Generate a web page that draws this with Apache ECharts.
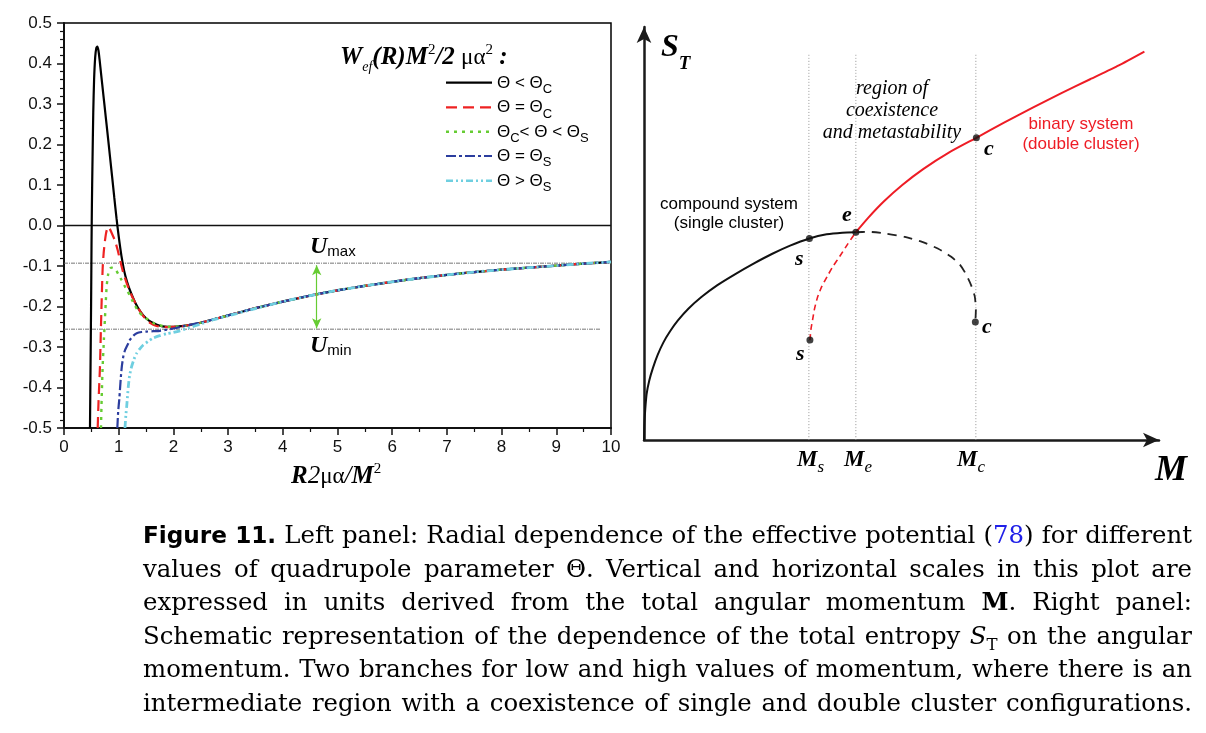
<!DOCTYPE html>
<html>
<head>
<meta charset="utf-8">
<script src="https://cdn.jsdelivr.net/npm/echarts@6/dist/echarts.min.js"></script>
<style>
html, body { margin: 0; padding: 0; background: #fff; }
#main { width: 1206px; height: 733px; }
</style>
</head>
<body>
<div id="main"></div>
<script>
// ---- left panel: effective potential ----
var tail = [[2.2,-0.248],[2.5,-0.24],[3,-0.222],[3.5,-0.204],[4,-0.188],[4.5,-0.173],[5,-0.16],[5.5,-0.149],[6,-0.139],[6.5,-0.13],[7,-0.122],[7.5,-0.115],[8,-0.109],[8.5,-0.104],[9,-0.099],[9.5,-0.094],[10,-0.09]];
var below = [[0.475,-0.5],[0.485,-0.35],[0.495,-0.2],[0.503,-0.05],[0.51,0.05],[0.52,0.15],[0.535,0.28],[0.55,0.36],[0.57,0.415],[0.59,0.438],[0.61,0.442],[0.63,0.432],[0.65,0.41],[0.68,0.372],[0.72,0.322],[0.76,0.272],[0.8,0.222],[0.84,0.171],[0.88,0.12],[0.92,0.068],[0.96,0.018],[1.0,-0.027],[1.05,-0.075],[1.1,-0.112],[1.15,-0.138],[1.2,-0.158],[1.3,-0.19],[1.4,-0.213],[1.5,-0.229],[1.6,-0.239],[1.7,-0.245],[1.8,-0.249],[1.9,-0.25],[2.0,-0.25]];
var equalC = [[0.616,-0.5],[0.63,-0.44],[0.645,-0.39],[0.658,-0.348],[0.672,-0.27],[0.689,-0.183],[0.707,-0.105],[0.725,-0.068],[0.744,-0.043],[0.765,-0.022],[0.785,-0.01],[0.81,-0.004],[0.835,-0.008],[0.87,-0.018],[0.93,-0.037],[0.98,-0.06],[1.02,-0.083],[1.08,-0.115],[1.146,-0.142],[1.22,-0.168],[1.3,-0.19],[1.4,-0.214],[1.48,-0.229],[1.58,-0.241],[1.69,-0.248],[1.8,-0.25],[1.9,-0.251],[2.0,-0.25]];
var between = [[0.676,-0.5],[0.69,-0.42],[0.707,-0.348],[0.73,-0.28],[0.75,-0.225],[0.765,-0.185],[0.78,-0.15],[0.805,-0.122],[0.83,-0.109],[0.85,-0.105],[0.87,-0.104],[0.9,-0.105],[0.93,-0.107],[0.96,-0.112],[1.0,-0.122],[1.05,-0.134],[1.1,-0.147],[1.146,-0.159],[1.2,-0.172],[1.24,-0.183],[1.3,-0.198],[1.36,-0.212],[1.45,-0.224],[1.54,-0.233],[1.65,-0.242],[1.8,-0.248],[1.9,-0.25],[2.0,-0.25]];
var equalS = [[0.975,-0.5],[0.99,-0.46],[1.01,-0.43],[1.04,-0.373],[1.06,-0.345],[1.085,-0.323],[1.115,-0.308],[1.146,-0.299],[1.18,-0.29],[1.207,-0.282],[1.27,-0.272],[1.33,-0.266],[1.42,-0.263],[1.51,-0.262],[1.63,-0.261],[1.755,-0.26],[1.85,-0.258],[1.94,-0.256],[2.05,-0.253]];
var above = [[1.115,-0.5],[1.13,-0.47],[1.146,-0.447],[1.176,-0.397],[1.2,-0.37],[1.237,-0.348],[1.28,-0.33],[1.33,-0.315],[1.39,-0.304],[1.45,-0.295],[1.54,-0.286],[1.63,-0.278],[1.75,-0.272],[1.88,-0.267],[2.0,-0.264],[2.12,-0.26],[2.3,-0.252],[2.5,-0.243],[2.75,-0.232],[3.0,-0.223],[3.5,-0.205]];
var tailFrom4 = tail.slice(4);
var UMAX = -0.093, UMIN = -0.256, ARROW_X = 4.62;
var xTicks = [0, 10, 1];          // min, max, step
var yTicks = [-0.5, 0.5, 0.1];

// ---- right panel: schematic entropy, in arbitrary units ----
var Ms = 3.16, Me = 4.06, Mc = 6.36;
var singleSolid = [[0,0],[0.008,0.4],[0.025,0.75],[0.05,1.1],[0.1,1.42],[0.17,1.72],[0.26,2.03],[0.37,2.33],[0.5,2.6],[0.65,2.86],[0.85,3.14],[1.1,3.42],[1.4,3.7],[1.75,3.97],[2.1,4.22],[2.45,4.45],[2.8,4.65],[3.17,4.82],[3.5,4.92],[3.8,4.96],[4.06,4.97]];
var singleDashed = [[4.06,4.97],[4.3,4.98],[4.63,4.94],[5.0,4.86],[5.33,4.74],[5.63,4.58],[5.88,4.39],[6.05,4.2],[6.16,3.99],[6.27,3.7],[6.34,3.43],[6.36,3.1],[6.35,2.82]];
var doubleDashed = [[3.18,2.39],[3.2,2.65],[3.23,2.87],[3.27,3.15],[3.33,3.43],[3.41,3.68],[3.51,3.91],[3.62,4.15],[3.75,4.39],[3.9,4.68],[4.06,4.97]];
var doubleSolid = [[4.06,4.97],[4.3,5.32],[4.6,5.71],[4.95,6.1],[5.35,6.48],[5.85,6.88],[6.37,7.23],[6.9,7.59],[7.45,7.95],[8.0,8.3],[8.55,8.63],[9.1,8.96],[9.59,9.29]];
var keyPoints = [[3.17,4.82],[4.06,4.97],[6.37,7.23],[3.18,2.39],[6.35,2.82]];
var guideTop = 9.26;

var caption = [
  "{fig|Figure} {fig|11.} Left panel: Radial dependence of the effective potential ({blue|78}) for different",
  "values of quadrupole parameter Θ. Vertical and horizontal scales in this plot are",
  "expressed in units derived from the total angular momentum {bf|M}. Right panel:",
  "Schematic representation of the dependence of the total entropy {it|S}{sub|T} on the angular",
  "momentum. Two branches for low and high values of momentum, where there is an",
  "intermediate region with a coexistence of single and double cluster configurations."
];

// text styles (size used for baseline placement)
var SERIF = '"Liberation Serif"', SANS = '"Liberation Sans"', CSERIF = '"DejaVu Serif"';
var ST = {
  W:    { font: 'italic bold 25px ' + SERIF, size: 25 },
  Wit:  { font: 'italic 25px ' + SERIF, size: 25 },
  wsub: { font: 'italic 14px ' + SERIF, size: 14, dy: 6 },
  wsup: { font: '15px ' + SERIF, size: 15, dy: -11 },
  greek:{ font: '23px ' + SERIF, size: 23 },
  leg:  { font: '17px ' + SANS, size: 17 },
  legs: { font: '13px ' + SANS, size: 13, dy: 5 },
  U:    { font: 'italic bold 24px ' + SERIF, size: 24 },
  Usub: { font: '15px ' + SANS, size: 15, dy: 2 },
  ST:   { font: 'italic bold 32px ' + SERIF, size: 32 },
  STs:  { font: 'italic bold 19px ' + SERIF, size: 19, dy: 12 },
  MM:   { font: 'italic bold 36px ' + SERIF, size: 36 },
  Mk:   { font: 'italic bold 23px ' + SERIF, size: 23 },
  Mks:  { font: 'italic 17px ' + SERIF, size: 17, dy: 5 },
  pt:   { font: 'italic bold 22px ' + SERIF, size: 22 },
  note: { font: '17px ' + SANS, size: 17 },
  noteR:{ font: '17px ' + SANS, size: 17, color: '#ee1c25' },
  reg:  { font: 'italic 20px ' + SERIF, size: 20 }
};

function captionStyles(s) {
  ST.rm = { font: s + 'px ' + CSERIF, size: s };
  ST.blue = { font: s + 'px ' + CSERIF, size: s, color: '#2020e8' };
  ST.bf = { font: 'bold ' + s + 'px ' + CSERIF, size: s };
  ST.it = { font: 'italic ' + s + 'px ' + CSERIF, size: s };
  ST.sub = { font: (s * 0.68) + 'px ' + CSERIF, size: s * 0.68, dy: s * 0.25 };
  ST.fig = { font: 'bold ' + (s * 0.95) + 'px "DejaVu Sans"', size: s * 0.95 };
}

var measureCtx = document.createElement('canvas').getContext('2d');
function textW(str, font) {
  measureCtx.font = font;
  return measureCtx.measureText(str).width;
}

// lay out a row of differently styled pieces on one baseline
function runText(x, baseline, parts, align) {
  var widths = parts.map(function (p) { return textW(p[0], ST[p[1]].font); });
  var total = widths.reduce(function (a, b) { return a + b; }, 0);
  if (align === 'center') x -= total / 2;
  else if (align === 'right') x -= total;
  var out = [];
  parts.forEach(function (p, i) {
    var s = ST[p[1]];
    out.push({
      type: 'text', x: x, y: baseline - 0.33 * s.size + (s.dy || 0), silent: true, z: 100,
      style: { text: p[0], font: s.font, fill: s.color || '#000', align: 'left', verticalAlign: 'middle' }
    });
    x += widths[i];
  });
  return out;
}

function parseWord(word) {
  var parts = [], re = /\{(\w+)\|([^}]*)\}|([^{]+)/g, m;
  while ((m = re.exec(word))) {
    if (m[1]) parts.push([m[2], m[1]]);
    else parts.push([m[3], 'rm']);
  }
  return parts;
}

function wordWidth(w) {
  return w.reduce(function (a, p) { return a + textW(p[0], ST[p[1]].font); }, 0);
}

// justified caption, like the typeset page
function captionBlock(left, right, firstBase, lineGap) {
  var base = 25;
  captionStyles(base);
  var widest = 0;
  caption.forEach(function (line) {
    var words = line.split(' ').map(parseWord);
    var w = words.reduce(function (a, wd) { return a + wordWidth(wd); }, 0) + (words.length - 1) * textW(' ', ST.rm.font);
    widest = Math.max(widest, w);
  });
  var target = right - left - 4;
  if (widest > target) captionStyles(base * target / widest);

  var out = [];
  caption.forEach(function (line, li) {
    var words = line.split(' ').map(parseWord);
    var ww = words.map(wordWidth);
    var sum = ww.reduce(function (a, b) { return a + b; }, 0);
    var gap = (right - left - sum) / (words.length - 1);
    var x = left, y = firstBase + li * lineGap;
    words.forEach(function (w, i) {
      out = out.concat(runText(x, y, w, 'left'));
      x += ww[i] + gap;
    });
  });
  return out;
}

function legendRow(y, color, dash, width, parts) {
  return [{
    type: 'line', silent: true, z: 100,
    shape: { x1: 446, y1: y, x2: 492, y2: y },
    style: { stroke: color, lineWidth: width, lineDash: dash }
  }].concat(runText(497, y + 6, parts, 'left'));
}

var graphics = []
  .concat(runText(340, 66, [['W', 'W'], ['ef', 'wsub'], ['(R)M', 'W'], ['2', 'wsup'], ['/2 ', 'W'], ['μα', 'greek'], ['2', 'wsup'], [' :', 'W']], 'left'))
  .concat(legendRow(82.7, '#000', null, 2.2, [['Θ < Θ', 'leg'], ['C', 'legs']]))
  .concat(legendRow(107.3, '#ee2222', [11, 6], 2.2, [['Θ = Θ', 'leg'], ['C', 'legs']]))
  .concat(legendRow(131.7, '#66cc33', [3, 5], 2.4, [['Θ', 'leg'], ['C', 'legs'], ['< Θ < Θ', 'leg'], ['S', 'legs']]))
  .concat(legendRow(156, '#2b3d9e', [10, 3, 3, 3], 2.2, [['Θ = Θ', 'leg'], ['S', 'legs']]))
  .concat(legendRow(180.7, '#6fcfe0', [7, 3, 2, 3, 2, 3], 2.4, [['Θ > Θ', 'leg'], ['S', 'legs']]))
  .concat(runText(310, 255, [['U', 'U'], ['max', 'Usub']], 'left'))
  .concat(runText(310, 354, [['U', 'U'], ['min', 'Usub']], 'left'))
  .concat(runText(291, 485, [['R', 'W'], ['2', 'Wit'], ['μα', 'greek'], ['/', 'Wit'], ['M', 'W'], ['2', 'wsup']], 'left'))
  // right panel labels
  .concat(runText(661, 58, [['S', 'ST'], ['T', 'STs']], 'left'))
  .concat(runText(1155, 483, [['M', 'MM']], 'left'))
  .concat(runText(797, 468, [['M', 'Mk'], ['s', 'Mks']], 'left'))
  .concat(runText(844, 468, [['M', 'Mk'], ['e', 'Mks']], 'left'))
  .concat(runText(957, 468, [['M', 'Mk'], ['c', 'Mks']], 'left'))
  .concat(runText(795, 267, [['s', 'pt']], 'left'))
  .concat(runText(796, 362, [['s', 'pt']], 'left'))
  .concat(runText(842, 223, [['e', 'pt']], 'left'))
  .concat(runText(984, 157, [['c', 'pt']], 'left'))
  .concat(runText(982, 335, [['c', 'pt']], 'left'))
  .concat(runText(729, 210, [['compound system', 'note']], 'center'))
  .concat(runText(729, 229, [['(single cluster)', 'note']], 'center'))
  .concat(runText(1081, 130, [['binary system', 'noteR']], 'center'))
  .concat(runText(1081, 150, [['(double cluster)', 'noteR']], 'center'))
  .concat(runText(892, 95, [['region of', 'reg']], 'center'))
  .concat(runText(892, 117, [['coexistence', 'reg']], 'center'))
  .concat(runText(892, 139, [['and metastability', 'reg']], 'center'))
  .concat(captionBlock(143, 1192, 545, 33.5));

function curve(name, data, color, width, dash, x, y) {
  return {
    name: name, type: 'line', xAxisIndex: x || 0, yAxisIndex: y || 0,
    data: data, showSymbol: false, smooth: 0.2, silent: true,
    lineStyle: { color: color, width: width, type: dash || 'solid' }
  };
}

var blackAxis = { color: '#111', width: 2 };

var option = {
  backgroundColor: '#fff',
  animation: false,
  grid: [
    { left: 64, top: 23, width: 547, height: 405, show: true, borderColor: '#000', borderWidth: 1.5 },
    { left: 644, top: 27, width: 515, height: 413 }
  ],
  xAxis: [
    {
      gridIndex: 0, type: 'value', min: xTicks[0], max: xTicks[1], interval: xTicks[2],
      axisLine: { onZero: false, lineStyle: blackAxis },
      axisTick: { length: 7, lineStyle: { color: '#111', width: 1.5 } },
      minorTick: { show: true, splitNumber: 2, length: 4, lineStyle: { color: '#111', width: 1.2 } },
      axisLabel: { fontSize: 17, fontFamily: 'Liberation Sans', color: '#111', margin: 11 },
      splitLine: { show: false }
    },
    {
      gridIndex: 1, type: 'value', min: 0, max: 9.87,
      axisLine: { onZero: false, symbol: ['none', 'arrow'], symbolSize: [11, 16], lineStyle: { color: '#1a1a1a', width: 2.5 } },
      axisTick: { show: false }, axisLabel: { show: false }, splitLine: { show: false }
    }
  ],
  yAxis: [
    {
      gridIndex: 0, type: 'value', min: yTicks[0], max: yTicks[1], interval: yTicks[2],
      axisLine: { onZero: false, lineStyle: blackAxis },
      axisTick: { length: 7, lineStyle: { color: '#111', width: 1.5 } },
      minorTick: { show: true, splitNumber: 5, length: 4, lineStyle: { color: '#111', width: 1.2 } },
      axisLabel: {
        fontSize: 17, fontFamily: 'Liberation Sans', color: '#111', margin: 12,
        formatter: function (v) { return Math.abs(v) < 1e-9 ? '0.0' : v.toFixed(1); }
      },
      splitLine: { show: false }
    },
    {
      gridIndex: 1, type: 'value', min: 0, max: 9.88,
      axisLine: { onZero: false, symbol: ['none', 'arrow'], symbolSize: [11, 16], lineStyle: { color: '#1a1a1a', width: 2.5 } },
      axisTick: { show: false }, axisLabel: { show: false }, splitLine: { show: false }
    }
  ],
  graphic: graphics,
  series: [
    curve('zero', [[0, 0], [10, 0]], '#111', 1.6),
    {
      name: 'Umax', type: 'line', data: [[0, UMAX], [10, UMAX]], showSymbol: false, silent: true,
      lineStyle: { color: '#666', width: 0.9, type: [4, 1, 1, 1] },
      markLine: {
        silent: true, symbol: ['arrow', 'arrow'], symbolSize: [7, 10],
        label: { show: false },
        lineStyle: { color: '#66cc33', width: 1.2, type: 'solid' },
        data: [[{ coord: [ARROW_X, -0.098] }, { coord: [ARROW_X, -0.254] }]]
      }
    },
    {
      name: 'Umin', type: 'line', data: [[0, UMIN], [9.8, UMIN]], showSymbol: false, silent: true,
      lineStyle: { color: '#666', width: 0.9, type: [4, 1, 1, 1] }
    },
    curve('Θ < Θc', below.concat(tail), '#000', 2.2),
    curve('Θ = Θc', equalC.concat(tail), '#ee2222', 2.2, [11, 6]),
    curve('Θc < Θ < Θs', between.concat(tail), '#66cc33', 2.4, [3, 5]),
    curve('Θ = Θs', equalS.concat(tail), '#2b3d9e', 2.2, [10, 3, 3, 3]),
    curve('Θ > Θs', above.concat(tailFrom4), '#6fcfe0', 2.8, [7, 3, 2, 3, 2, 3]),

    // right panel
    curve('Ms', [[Ms, 0], [Ms, guideTop]], '#999', 1, [1, 2], 1, 1),
    curve('Me', [[Me, 0], [Me, guideTop]], '#999', 1, [1, 2], 1, 1),
    curve('Mc', [[Mc, 0], [Mc, guideTop]], '#999', 1, [1, 2], 1, 1),
    curve('single', singleSolid, '#111', 2, null, 1, 1),
    curve('single metastable', singleDashed, '#222', 1.8, [9, 7], 1, 1),
    curve('double metastable', doubleDashed, '#ee1c25', 1.6, [6, 4], 1, 1),
    curve('double', doubleSolid, '#ee1c25', 2, null, 1, 1),
    {
      name: 'points', type: 'scatter', xAxisIndex: 1, yAxisIndex: 1, silent: true,
      data: keyPoints, symbolSize: 7, itemStyle: { color: '#111' }, z: 5
    }
  ]
};

var chart = echarts.init(document.getElementById('main'), null, { renderer: 'canvas' });
chart.setOption(option);
</script>
</body>
</html>
